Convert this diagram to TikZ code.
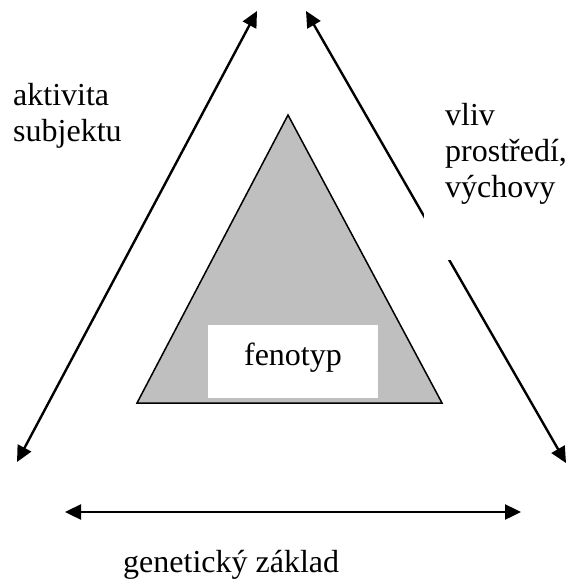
\documentclass[tikz,border=0pt]{standalone}
\usepackage{fontspec}
\setmainfont{Liberation Serif}
\usetikzlibrary{arrows.meta}
\tikzset{
  force/.style={line width=2.4pt, {Triangle[length=16pt,width=15pt]}-{Triangle[length=16pt,width=15pt]}},
  label text/.style={font=\fontsize{32}{36}\selectfont, inner sep=0pt, align=left},
  pheno/.style={draw=black, line width=1.5pt, fill=black!25}
}

\begin{document}
\begin{tikzpicture}[x=1pt, y=-1pt]
  \useasboundingbox (0,0) rectangle (568,580);

  % end points of the three influences
  \coordinate (akt-dn) at (17,462);
  \coordinate (akt-up) at (257,11);
  \coordinate (vliv-up) at (306,11);
  \coordinate (vliv-dn) at (566,463);
  \coordinate (gen-l) at (65,512);
  \coordinate (gen-r) at (521,512);

  \draw[force] (akt-dn) -- (akt-up);
  \draw[force] (vliv-up) -- (vliv-dn);
  \draw[force] (gen-l) -- (gen-r);

  % phenotype triangle
  \coordinate (top) at (288,115);
  \coordinate (base-r) at (442,403);
  \coordinate (base-l) at (137,403);
  \draw[pheno] (top) -- (base-r) -- (base-l) -- cycle;
  \node[label text, fill=white, minimum width=170pt, minimum height=73pt] (feno) at (293,361) {};
  \node[label text, anchor=base] at (293,365) {fenotyp};

  % labels (base = last line)
  \node[label text, anchor=base west] (aktivita) at (13,142) {aktivita\\subjektu};
  \fill[white] (424,90) rectangle (568,260);
  \node[label text, anchor=base west] (vliv) at (445,197) {vliv\\prostředí,\\výchovy};
  \node[label text, anchor=base west] (geneticky) at (123,572) {genetický základ};
\end{tikzpicture}
\end{document}
